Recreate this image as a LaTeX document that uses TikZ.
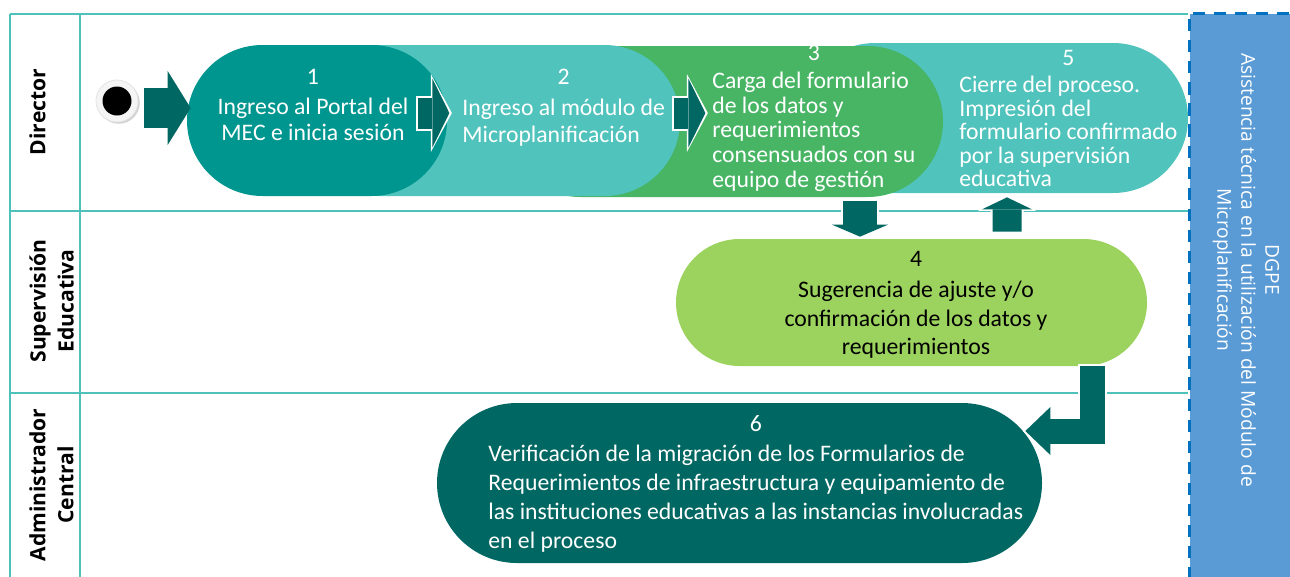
\documentclass[tikz,border=0pt]{standalone}
\usepackage{fontspec}
\setmainfont{Carlito}
\newfontfamily\lanefont{Open Sans}
\usetikzlibrary{arrows.meta,calc,shapes.misc,shadows}

\newcommand{\pxl}{0.02cm}
\newcommand{\steplines}[3]{\begin{tabular}{@{}l@{}}\multicolumn{1}{@{}c@{}}{#1}\\[#2]#3\end{tabular}}

\definecolor{lanec}{HTML}{4FC1BB}
\definecolor{stepa}{HTML}{009690}
\definecolor{stepb}{HTML}{50C3BC}
\definecolor{stepc}{HTML}{47B564}
\definecolor{stepd}{HTML}{9CD35E}
\definecolor{arrowc}{HTML}{006762}
\definecolor{dgpefill}{HTML}{5B9BD5}
\definecolor{dgpeline}{HTML}{0070C0}

\begin{document}
\begin{tikzpicture}[x=0.02cm,y=-0.02cm,
    lane/.style={draw=lanec,line width=2*\pxl},
    pill/.style 2 args={rounded rectangle,minimum width=#1*\pxl,minimum height=#2*\pxl,inner sep=0pt},
    steptext/.style={text=white,inner sep=0pt},
    lanelabel/.style={font=\lanefont\bfseries\fontsize{12}{16}\selectfont,rotate=90,anchor=north,align=center,inner sep=0pt},
    startdot/.style={circle,minimum size=42*\pxl,inner sep=0pt,fill=gray!8,draw=gray!20,line width=0.5pt,
        drop shadow={shadow xshift=1pt,shadow yshift=-1pt,opacity=0.35},
        path picture={\fill[black] (path picture bounding box.center) circle [radius=14.5*\pxl];}},
    blockarrow/.style n args={3}{draw=arrowc,line width=#1*\pxl,-{Triangle[length=#3*\pxl,width=#2*\pxl,line width=0pt]}},
    halo/.style n args={3}{draw=white,line width=#1*\pxl,shorten >=-2.5*\pxl,shorten <=-2*\pxl,-{Triangle[length=#3*\pxl,width=#2*\pxl,line width=0pt]}}]

                \clip (0,0) rectangle (1290,576);

                % lanes
                \foreach \y in {14,211,393}
                    {
                    \draw[lane] (10,\y) -- (1188,\y);
                    }
                \foreach \x in {10,80}
                    {
                    \draw[lane] (\x,14) -- (\x,580);
                    }

                \node[lanelabel] (lbldir) at (29,112) {Director};

                \node[lanelabel] (lblsup) at (29,301) {Supervisión\\Educativa};

                \node[lanelabel] (lbladm) at (29,485) {Administrador\\Central};

                % DGPE
                \node[fill=dgpefill,draw=dgpeline,line width=1.7pt,dash pattern=on 7pt off 5pt,
                      anchor=north west,minimum width=140*\pxl,minimum height=600*\pxl] (dgpe) at (1188,12) {};

                \node[text=white,rotate=-90,align=center,font=\lanefont\fontsize{10.9}{13.6}\selectfont] (dgpetxt) at (1246,270)
                    {DGPE\\Asistencia técnica en la utilización del Módulo de\\Microplanificación};

                % steps
                \node[startdot] (start) at (117,101) {};

                \node[pill={388}{150},fill=stepb] (n5) at (994,118) {};

                \node[pill={438}{151},fill=stepc] (n3) at (724,121.5) {};

                \node[pill={377}{151},fill=stepb] (n2) at (491.5,120.5) {};

                \node[pill={260}{151},fill=stepa] (n1) at (317,120.5) {};

                \node[pill={471}{127},fill=stepd] (n4) at (911.5,302.5) {};

                \node[pill={605}{160},fill=arrowc] (n6) at (739.5,483) {};

                \node[steptext,align=center,font=\fontsize{13.5}{14.7}\selectfont] (t1) at (313,104.5)
                    {1\\[2.5pt]Ingreso al Portal del\\MEC e inicia sesión};

                \node[steptext,anchor=west,font=\fontsize{13.5}{15}\selectfont] (t2) at (462,108)
                    {\steplines{2}{3pt}{Ingreso al módulo de\\Microplanificación}};

                \node[steptext,anchor=west,font=\fontsize{13.5}{14}\selectfont] (t3) at (712,119)
                    {\steplines{3}{2pt}{Carga del formulario\\de los datos y\\requerimientos\\consensuados con su\\equipo de gestión}};

                \node[steptext,anchor=west,font=\fontsize{13.5}{13.2}\selectfont] (t5) at (959,121.5)
                    {\steplines{5}{2pt}{Cierre del proceso.\\Impresión del\\formulario confirmado\\por la supervisión\\educativa}};

                \node[steptext,text=black,align=center,font=\fontsize{13.5}{16.2}\selectfont] (t4) at (916,305)
                    {4\\[1.5pt]Sugerencia de ajuste y/o\\confirmación de los datos y\\requerimientos};

                \node[steptext,anchor=west,font=\fontsize{13.5}{16.4}\selectfont] (t6) at (488,484)
                    {\steplines{6}{1pt}{Verificación de la migración de los Formularios de\\Requerimientos de infraestructura y equipamiento de\\las instituciones educativas a las instancias involucradas\\en el proceso}};

                % flow
                \path[blockarrow={40}{74}{23}] ($(start.east)+(6,7)$) -- ($(n1.west)+(4,-12.5)$);

                \foreach \from/\dx in {n1/-29, n2/-6}
                    {
                    \path[halo={35}{78}{21}] ($(\from.east)+(\dx,-7.5)$) -- ++(31,0);
                    \path[blockarrow={31}{69}{17}] ($(\from.east)+(\dx,-7.5)$) -- ++(31,0);
                    }

                \path[halo={38}{64}{16}] ($(n4.north)+(-51.5,-38)$) -- ($(n4.north)+(-51.5,-2)$);
                \path[blockarrow={34}{56}{12}] ($(n4.north)+(-51.5,-38)$) -- ($(n4.north)+(-51.5,-2)$);

                \path[halo={33}{58}{16}] ($(n4.north)+(95.5,-7)$) -- ($(n5.south)+(13,4)$);
                \path[blockarrow={29}{50}{12}] ($(n4.north)+(95.5,-7)$) -- ($(n5.south)+(13,4)$);

                \path[halo={29}{56}{30}] ($(n4.south)+(181,0)$) |- ($(n6.east)+(-17,-52)$);
                \path[blockarrow={25}{48}{25}] ($(n4.south)+(181,0)$) |- ($(n6.east)+(-17,-52)$);

            \end{tikzpicture}
\end{document}
